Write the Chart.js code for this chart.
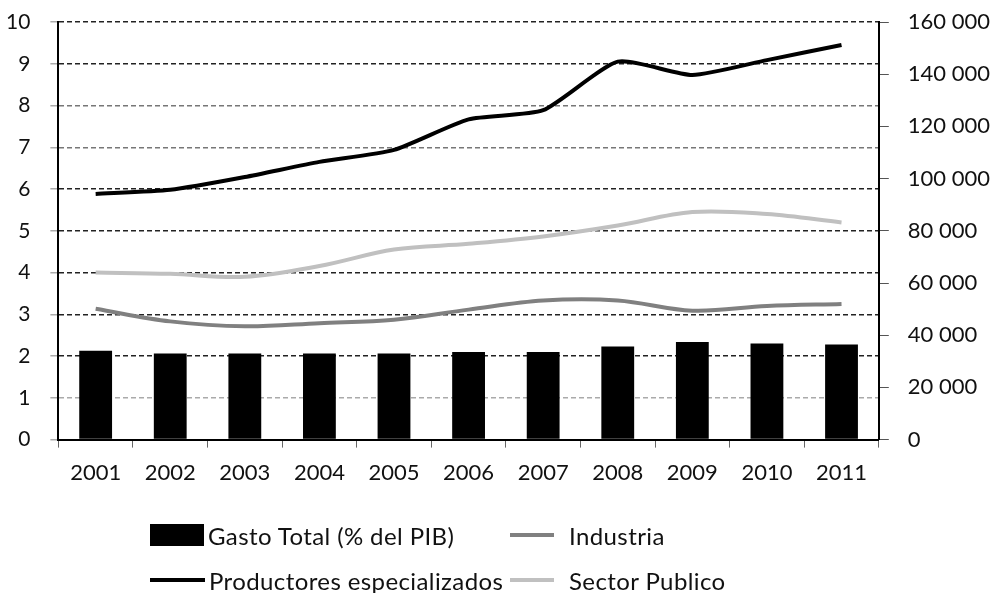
<!DOCTYPE html>
<html>
<head>
<meta charset="utf-8">
<script src="https://cdn.jsdelivr.net/npm/chart.js@4.4.1/dist/chart.umd.min.js"></script>
<style>
  html, body { margin: 0; padding: 0; background: #fff; }
  #wrap { position: relative; width: 999px; height: 593px; }
  #legend {
    position: absolute; left: 150px; top: 520px;
    display: grid; grid-template-columns: 360px 300px; row-gap: 15px;
    font-family: Lato, sans-serif; font-size: 24px; letter-spacing: 0.4px; color: #111;
  }
  .item { display: flex; align-items: center; height: 30px; white-space: nowrap; }
</style>
</head>
<body>
<div id="wrap">
  <canvas id="gastoChart" width="999" height="593"></canvas>
  <div id="legend"></div>
</div>
<script>
// Datos
const years = ['2001', '2002', '2003', '2004', '2005', '2006', '2007', '2008', '2009', '2010', '2011'];
const gastoTotal = [2.13, 2.06, 2.06, 2.06, 2.06, 2.10, 2.10, 2.23, 2.34, 2.30, 2.28];
const industria = [50100, 45300, 43400, 44600, 45900, 49800, 53300, 53300, 49400, 51200, 52000];
const productores = [94100, 95700, 100600, 106400, 111000, 122700, 126200, 144800, 139700, 145400, 151200];
const sectorPublico = [64000, 63500, 62400, 66500, 72800, 75000, 77800, 82000, 87200, 86400, 83200];

const fontFamily = 'Lato, sans-serif';

// separador de miles con espacio
const fmtMiles = v => String(v).replace(/\B(?=(\d{3})+(?!\d))/g, ' ');

// el padding de las etiquetas empuja el area hacia abajo, lo fijamos a mano
const fixTop = scale => { scale.paddingTop = 22; };

const ctx = document.getElementById('gastoChart').getContext('2d');
const gastoChart = new Chart(ctx, {
    data: {
        labels: years,
        datasets: [{
            type: 'bar',
            label: 'Gasto Total (% del PIB)',
            data: gastoTotal,
            backgroundColor: '#000',
            yAxisID: 'y',
            barPercentage: 0.44,
            categoryPercentage: 1
        }, {
            type: 'line',
            label: 'Industria',
            data: industria,
            borderColor: '#808080',
            borderWidth: 4,
            pointRadius: 0,
            tension: 0.35,
            yAxisID: 'y1'
        }, {
            type: 'line',
            label: 'Productores especializados',
            data: productores,
            borderColor: '#000',
            borderWidth: 4,
            pointRadius: 0,
            tension: 0.2,
            yAxisID: 'y1'
        }, {
            type: 'line',
            label: 'Sector Publico',
            data: sectorPublico,
            borderColor: '#c0c0c0',
            borderWidth: 4,
            pointRadius: 0,
            tension: 0.35,
            yAxisID: 'y1'
        }]
    },
    options: {
        responsive: false,
        animation: false,
        layout: { padding: { left: -14, right: -10, top: 0, bottom: 95 } },
        plugins: {
            legend: { display: false },
            tooltip: { enabled: false }
        },
        scales: {
            x: {
                offset: true,
                grid: { drawOnChartArea: false, offset: true, tickLength: 8, tickColor: '#666' },
                border: { color: '#000', width: 2 },
                ticks: { padding: 12, color: '#111', font: { family: fontFamily, size: 22 } }
            },
            y: {
                position: 'left',
                min: 0,
                max: 10,
                afterFit: fixTop,
                ticks: { stepSize: 1, padding: 20, color: '#111', font: { family: fontFamily, size: 21 } },
                grid: {
                    color: c => (c.tick.value === 1 ? '#aaa' : (c.tick.value === 7 || c.tick.value === 8 ? '#777' : '#222')),
                    lineWidth: 1.5,
                    tickLength: 8,
                    tickColor: '#aaa'
                },
                border: { color: '#000', width: 2, dash: [5, 3] }
            },
            y1: {
                position: 'right',
                min: 0,
                max: 160000,
                afterFit: fixTop,
                ticks: { stepSize: 20000, padding: 19, color: '#111', font: { family: fontFamily, size: 22 }, callback: fmtMiles },
                grid: { drawOnChartArea: false, tickLength: 10, tickColor: '#555' },
                border: { color: '#000', width: 2 }
            }
        }
    }
});

// leyenda en HTML, dos columnas como en el original
const legendEl = document.getElementById('legend');
gastoChart.data.datasets.forEach((ds, i) => {
    const item = document.createElement('div');
    item.className = 'item';
    const mark = document.createElement('span');
    const firstCol = i % 2 === 0;
    if (ds.type === 'bar') {
        mark.style.cssText = 'display:inline-block;width:54px;height:22px;background:' + ds.backgroundColor;
    } else {
        mark.style.cssText = 'display:inline-block;height:4px;width:' + (firstCol ? 55 : 44) + 'px;background:' + ds.borderColor;
    }
    mark.style.marginRight = firstCol ? '4px' : '15px';
    const txt = document.createElement('span');
    txt.textContent = ds.label;
    item.appendChild(mark);
    item.appendChild(txt);
    legendEl.appendChild(item);
});
</script>
</body>
</html>
